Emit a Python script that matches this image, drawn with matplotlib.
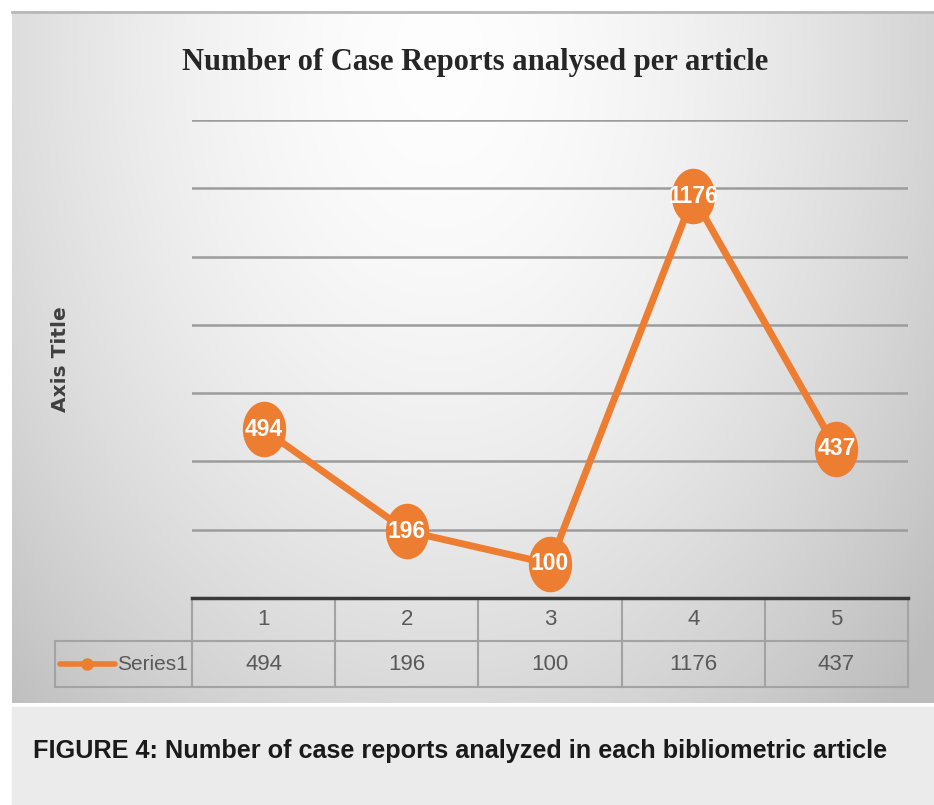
import numpy as np
import matplotlib
matplotlib.use("Agg")
import matplotlib.pyplot as plt
from matplotlib.path import Path
import matplotlib.transforms as mtransforms

# data
articles = [1, 2, 3, 4, 5]
case_reports = [494, 196, 100, 1176, 437]
series_name = "Series1"
chart_title = "Number of Case Reports analysed per article"
caption = "FIGURE 4: Number of case reports analyzed in each bibliometric article"

orange = "#ED7D31"
table_grey = "#595959"

W, H = 934, 805
fig = plt.figure(figsize=(W / 100, H / 100), dpi=100)
fig.patch.set_facecolor("white")

# background drawn in pixel coords (y down)
bg = fig.add_axes([0, 0, 1, 1])
bg.set_xlim(0, W)
bg.set_ylim(H, 0)
bg.axis("off")

xx, yy = np.meshgrid(np.linspace(12, W, 400), np.linspace(12, 703, 300))
r = np.sqrt(((xx - 440) / 540) ** 2 + ((yy - 60) / 760) ** 2)
shade = np.clip(0.995 - 0.19 * r ** 1.7, 0.74, 1.0)
bg.imshow(np.dstack([shade, shade, shade]), extent=(12, W, 703, 12),
          aspect="auto", interpolation="bilinear", zorder=0)
bg.plot([12, W], [12.5, 12.5], color="#b8b8b8", lw=2, zorder=1)
bg.add_patch(plt.Rectangle((12, 707), W - 12, H - 707, color="#ebebeb", zorder=1))

fig.text(475 / W, 1 - 70 / H, chart_title, ha="center", va="baseline",
         fontsize=22, fontweight="bold", family="Liberation Serif", color="#262626")
fig.text(61 / W, 1 - 359 / H, "Axis Title", rotation=90, ha="center", va="center",
         fontsize=14.5, fontweight="bold", color="#404040")
fig.text(33 / W, 1 - 758 / H, caption, ha="left", va="baseline",
         fontsize=18.2, fontweight="bold", family="Liberation Sans", color="#1a1a1a")

# main plot area
x0, x1, y0, y1 = 192, 908, 120, 598
ax = fig.add_axes([x0 / W, 1 - y1 / H, (x1 - x0) / W, (y1 - y0) / H])
ax.patch.set_alpha(0)
ax.set_xlim(0.5, 5.5)
ax.set_ylim(0, 1400)
ax.set_yticks(range(200, 1401, 200))
ax.grid(axis="y", color="#9c9c9c", lw=1.8)
ax.set_axisbelow(True)
ax.tick_params(left=False, bottom=False, labelleft=False, labelbottom=False)
for s in ax.spines.values():
    s.set_visible(False)


def px2x(px):
    return 0.5 + (px - x0) / (x1 - x0) * 5


t = np.linspace(0, 2 * np.pi, 60)
ellipse = Path(np.column_stack([0.78 * np.cos(t), np.sin(t)]), closed=True)

ax.plot(articles, case_reports, color=orange, lw=5, marker=ellipse,
        markersize=40, markeredgewidth=0, zorder=3)
for x, v in zip(articles, case_reports):
    ax.text(x, v, str(v), ha="center", va="center", color="white",
            fontsize=16.5, fontweight="bold", fontstretch="condensed",
            family="Liberation Sans", zorder=4)

# data table under the axis
tr = mtransforms.blended_transform_factory(ax.transData, ax.transAxes)
h1 = -43 / (y1 - y0)
h2 = -89 / (y1 - y0)
left_x = px2x(55)
line_kw = dict(transform=tr, clip_on=False, color="#a3a3a3", lw=1.5)
edges = [0.5 + i for i in range(6)]
ax.plot([edges[0], edges[-1]], [0, 0], transform=tr, clip_on=False,
        color="#3a3a3a", lw=2.5, zorder=5)
ax.plot([left_x, edges[-1]], [h1, h1], **line_kw)
ax.plot([left_x, edges[-1]], [h2, h2], **line_kw)
ax.plot([left_x, left_x], [h1, h2], **line_kw)
for e in edges:
    ax.plot([e, e], [0, h2], **line_kw)

for x, v in zip(articles, case_reports):
    ax.text(x, h1 / 2, str(x), transform=tr, ha="center", va="center",
            fontsize=16, family="Liberation Sans", color=table_grey)
    ax.text(x, (h1 + h2) / 2, str(v), transform=tr, ha="center", va="center",
            fontsize=16, family="Liberation Sans", color=table_grey)

# legend key in the table
ky = (h1 + h2) / 2
ax.plot([px2x(60), px2x(115)], [ky, ky], transform=tr, clip_on=False,
        color=orange, lw=4, solid_capstyle="round")
ax.plot([px2x(87)], [ky], transform=tr, clip_on=False,
        color=orange, marker="o", markersize=8)
ax.text(px2x(117), ky, series_name, transform=tr, ha="left", va="center",
        fontsize=15, family="Liberation Sans", color=table_grey)

fig.savefig("out.png", dpi=100)
